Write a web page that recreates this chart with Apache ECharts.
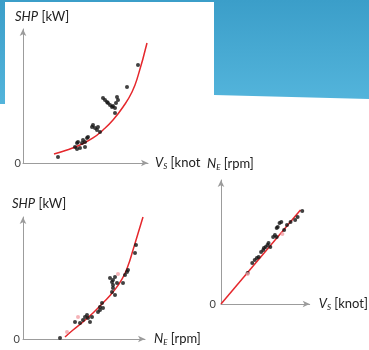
<!DOCTYPE html>
<html><head><meta charset="utf-8">
<script src="https://cdn.jsdelivr.net/npm/echarts@6/dist/echarts.min.js"></script>
<style>html,body{margin:0;padding:0;background:#fff}#c{width:369px;height:350px}</style>
</head><body><div id="c"></div>
<script>
// Chart 1: SHP vs ship speed
const speedFitA = [[6.2,672],[8.8,970],[11.4,1343],[14.0,1866],[16.0,2463],[18.0,3209],[20.0,4179],[21.8,5300],[23.0,6500],[24.8,8955]];
const speedPtsA = [[7.0,448],[10.4,1194],[10.8,1493],[11.0,1567],[11.8,1493],[12.0,1716],[12.4,1567],[12.8,1866],[13.0,1940],[12.4,1194],[11.4,1119],[10.8,1045],[13.8,2687],[14.0,2836],[14.4,2612],[14.8,2463],[15.4,2313],[15.0,2687],[16.0,4851],[16.4,4701],[16.8,4552],[17.0,4478],[17.4,4328],[17.8,4179],[18.0,4254],[18.4,4104],[18.6,4478],[18.8,4925],[19.0,4701],[18.4,3731],[20.8,5672],[23.0,7313]];
// Chart 2: SHP vs engine speed
const rpmFitB = [[42,164],[50,738],[60,1394],[70,2132],[80,2952],[90,3854],[99,4900],[105,6000],[110,7300],[115,8650],[120,10000]];
const rpmPtsB = [[37,82],[52,1394],[57,1312],[60,1558],[62,1804],[64,1968],[65,1722],[67,1394],[69,1804],[75,2214],[77,2624],[79,2952],[77,2378],[80,2542],[87,5002],[89,4674],[90,4428],[90,4182],[92,3608],[89,3854],[92,5084],[90,4838],[94,4592],[100,4592],[104,5494],[102,5248],[112,7052],[113,7708],[105,5658]];
const rpmPinkB = [[44,574],[55,1804],[95,5330]];
// Chart 3: engine speed vs ship speed
const lineC = [[0,0],[22.4,94]];
const ptsC = [[22.9,93],[21.6,87],[20.9,84],[19.6,82],[18.6,79],[17.0,82],[16.5,81],[16.0,77],[15.7,76],[15.2,69],[14.7,67],[15.7,67],[13.1,59],[12.6,57],[12.1,56],[11.9,54],[11.3,52],[10.6,47],[10.1,46],[9.5,44],[8.8,41],[7.5,31],[13.4,61],[13.9,57],[17.8,74]];
const pinkC = [[7.5,30],[17.3,70]];

const axisCol = '#9c9c9c', txt = '#222', red = '#e5272c';
const FONT = 'Lato';
const rich = {
  i:{fontStyle:'italic',fontSize:13,fontFamily:FONT,color:txt},
  s:{fontStyle:'italic',fontSize:8,fontFamily:FONT,color:txt,padding:[7,0,0,0]},
  n:{fontSize:13,fontFamily:FONT,color:txt}
};
function xAx(grid,max,name,gap){
  return {type:'value',gridIndex:grid,min:0,max:max,interval:max,
    axisLine:{show:true,lineStyle:{color:axisCol,width:1},symbol:['none','arrow'],symbolSize:[5,7]},
    axisTick:{show:false},axisLabel:{show:false},splitLine:{show:false},
    name:name,nameLocation:'end',nameGap:gap,nameTextStyle:{rich:rich,align:'left',verticalAlign:'middle'}};
}
function yAx(grid,max,name,gap,pad,lblMargin,lblPad){
  return {type:'value',gridIndex:grid,min:0,max:max,interval:max,
    axisLine:{show:true,lineStyle:{color:axisCol,width:1},symbol:['none','arrow'],symbolSize:[5,7]},
    axisTick:{show:false},splitLine:{show:false},
    axisLabel:{show:true,showMaxLabel:false,margin:lblMargin,padding:lblPad,color:'#444',fontSize:11,fontFamily:FONT,
      formatter:v=>v===0?'0':''},
    name:name,nameLocation:'end',nameGap:gap,nameTextStyle:{rich:rich,align:'left',padding:pad}};
}
const blue = {type:'linear',x:0,y:0,x2:0,y2:1,colorStops:[{offset:0,color:'#3b9ec9'},{offset:1,color:'#53b4db'}]};
const chart = echarts.init(document.getElementById('c'));
chart.setOption({
  animation:false,
  graphic:[
    {type:'rect',shape:{x:0,y:0,width:5,height:104},style:{fill:blue},z:-10},
    {type:'rect',shape:{x:0,y:0,width:214,height:2},style:{fill:'#3b9ec9'},z:-10},
    {type:'polygon',shape:{points:[[214,0],[369,0],[369,99],[214,95]]},style:{fill:blue},z:-10}
  ],
  grid:[
    {left:23,top:29,width:125,height:134},
    {left:23,top:217,width:122,height:122},
    {left:221,top:180,width:97,height:124}
  ],
  xAxis:[
    xAx(0,25,'{i|V}{s|S}{n| [knot}',7),
    xAx(1,122,'{i|N}{s|E}{n| [rpm]}',9),
    xAx(2,25,'{i|V}{s|S}{n| [knot]}',9)
  ],
  yAxis:[
    yAx(0,10000,'{i|SHP}{n| [kW]}',6,[0,0,0,-8],2,[4,0,0,0]),
    yAx(1,10000,'{i|SHP}{n| [kW]}',7,[0,0,0,-11],3,[4,0,0,0]),
    yAx(2,124,'{i|N}{s|E}{n| [rpm]}',9,[0,0,0,-14],5,[9,0,0,0])
  ],
  series:[
    {type:'line',xAxisIndex:0,yAxisIndex:0,data:speedFitA,smooth:0.5,symbol:'none',lineStyle:{color:red,width:1.5},z:3},
    {type:'scatter',xAxisIndex:0,yAxisIndex:0,data:speedPtsA,symbolSize:4,itemStyle:{color:'#111'},z:4},
    {type:'line',xAxisIndex:1,yAxisIndex:1,data:rpmFitB,smooth:0.5,symbol:'none',lineStyle:{color:red,width:1.5},z:3},
    {type:'scatter',xAxisIndex:1,yAxisIndex:1,data:rpmPtsB,symbolSize:4,itemStyle:{color:'#111'},z:4},
    {type:'scatter',xAxisIndex:1,yAxisIndex:1,data:rpmPinkB,symbolSize:4,itemStyle:{color:'#f2a0a6'},z:4},
    {type:'line',xAxisIndex:2,yAxisIndex:2,data:lineC,symbol:'none',lineStyle:{color:red,width:1.5},z:3},
    {type:'scatter',xAxisIndex:2,yAxisIndex:2,data:ptsC,symbolSize:4,itemStyle:{color:'#111'},z:4},
    {type:'scatter',xAxisIndex:2,yAxisIndex:2,data:pinkC,symbolSize:4,itemStyle:{color:'#f2a0a6'},z:4}
  ]
});
</script></body></html>
